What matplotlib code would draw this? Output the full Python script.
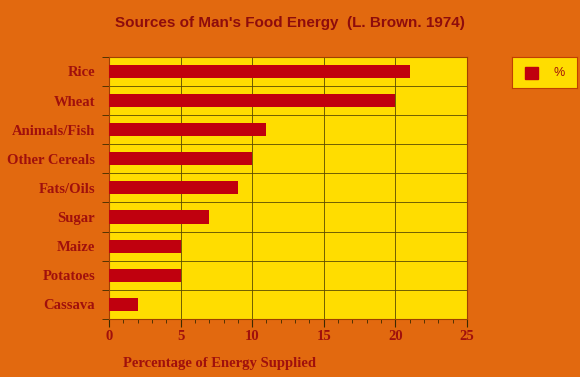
import numpy as np
import matplotlib
matplotlib.use('Agg')
import matplotlib.pyplot as plt
from matplotlib.ticker import MultipleLocator, FixedLocator
from matplotlib.patches import Rectangle

foods = ['Rice', 'Wheat', 'Animals/Fish', 'Other Cereals', 'Fats/Oils',
         'Sugar', 'Maize', 'Potatoes', 'Cassava']
percent = [21, 20, 11, 10, 9, 7, 5, 5, 2]

bg = '#E2690F'
yellow = '#FFDD00'
red = '#C0000E'
textc = '#A0100C'

fig = plt.figure(figsize=(5.8, 3.77), dpi=100, facecolor=bg)
ax = fig.add_axes([0.188, 0.154, 0.617, 0.695])
ax.set_facecolor(yellow)

y = np.arange(len(foods))
ax.barh(y, percent, height=0.45, color=red, zorder=3)
ax.set_ylim(len(foods) - 0.5, -0.5)
ax.set_xlim(0, 25)

ax.set_yticks(y)
ax.set_yticklabels(foods)
ax.yaxis.set_minor_locator(FixedLocator(np.arange(-0.5, len(foods), 1)))
ax.tick_params(axis='y', which='major', length=0, pad=10)
ax.tick_params(axis='y', which='minor', length=5, direction='out', color='#3a2a00')
ax.xaxis.set_major_locator(MultipleLocator(5))
ax.xaxis.set_minor_locator(MultipleLocator(1))
ax.tick_params(axis='x', which='major', length=6, direction='out', color='#3a2a00', pad=2)
ax.tick_params(axis='x', which='minor', length=3, direction='out', color='#3a2a00')

for lab in ax.get_yticklabels() + ax.get_xticklabels():
    lab.set_family('Liberation Serif')
    lab.set_fontweight('bold')
    lab.set_color(textc)
    lab.set_fontsize(10.5)

ax.grid(axis='x', which='major', color='#5a4a00', linewidth=0.6, zorder=1)
ax.grid(axis='y', which='minor', color='#5a4a00', linewidth=0.6, zorder=1)
for s in ax.spines.values():
    s.set_color('#a04000')
    s.set_linewidth(0.8)

ax.set_xlabel('Percentage of Energy Supplied', family='Liberation Serif',
              fontweight='bold', color=textc, fontsize=10.5)
ax.xaxis.set_label_coords(0.31, -0.145)

fig.text(0.5, 0.94, "Sources of Man's Food Energy  (L. Brown. 1974)",
         ha='center', va='center', family='Liberation Sans', fontweight='bold',
         fontsize=11, color='#8E0C0C')

# legend box
lax = fig.add_axes([512 / 580, 1 - 88 / 377, 65 / 580, 31 / 377])
lax.set_facecolor(yellow)
lax.set_xticks([])
lax.set_yticks([])
for s in lax.spines.values():
    s.set_color('#c04000')
    s.set_linewidth(0.8)
lax.set_xlim(0, 1)
lax.set_ylim(0, 1)
lax.add_patch(Rectangle((0.2, 0.3), 0.2, 0.38, color=red))
lax.text(0.72, 0.5, '%', ha='center', va='center', fontsize=9, color=textc,
         family='Liberation Sans')

fig.savefig('out.png', dpi=100, facecolor=bg)
